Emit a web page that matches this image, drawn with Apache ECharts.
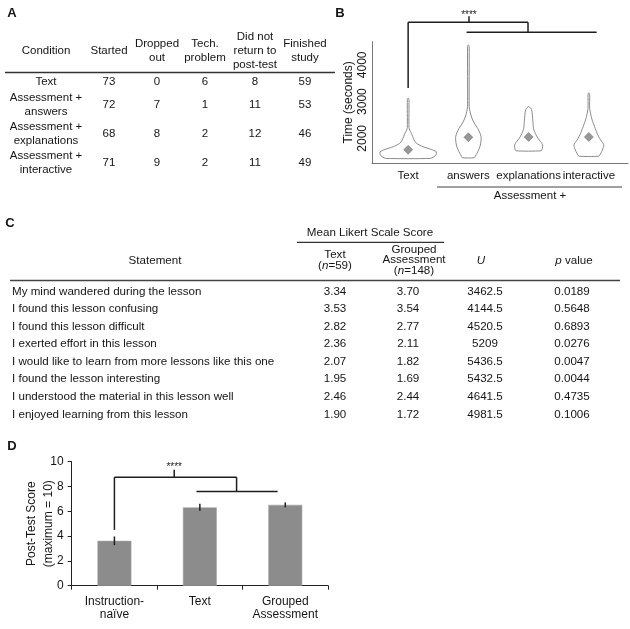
<!DOCTYPE html>
<html><head><meta charset="utf-8">
<script src="https://cdn.jsdelivr.net/npm/echarts@6/dist/echarts.min.js"></script>
<style>html,body{margin:0;padding:0;background:#fff}#c{width:630px;height:629px}</style>
</head><body><div id="c"></div>
<script>
// ---------------- DATA ----------------
// Panel A table
const tableAHeaders = ['Condition', 'Started', 'Dropped\nout', 'Tech.\nproblem', 'Did not\nreturn to\npost-test', 'Finished\nstudy'];
const conditions = ['Text', 'Assessment +\nanswers', 'Assessment +\nexplanations', 'Assessment +\ninteractive'];
const started = [73, 72, 68, 71];
const droppedOut = [0, 7, 8, 9];
const techProblem = [6, 1, 2, 2];
const didNotReturn = [8, 11, 12, 11];
const finishedStudy = [59, 53, 46, 49];

// Panel B violin plot (time in seconds); densities as [time, density] (arbitrary units)
const violinCategories = ['Text', 'answers', 'explanations', 'interactive'];
const violinMeans = [1690, 2030, 2040, 2040];
const densityText = [[1455,22],[1500,26],[1560,28],[1636,28],[1700,23],[1771,15],[1864,8.5],[1955,6],[2050,4.5],[2136,3.3],[2226,1.5],[2300,0.8],[3050,0.8],[3100,0]];
const densityAnswers = [[1473,6],[1520,7],[1591,8.5],[1700,10.5],[1818,12],[1950,12.7],[2045,12.7],[2150,11.5],[2272,9.3],[2390,6.5],[2499,4.3],[2610,2.8],[2725,1.7],[2861,0.8],[4500,0.8],[4542,0]];
const densityExplanations = [[1662,12.5],[1720,13.7],[1818,14],[1890,12.5],[1955,10.7],[2040,8.5],[2136,6.7],[2230,5.3],[2318,4.7],[2545,4],[2700,3.5],[2790,2.8],[2840,1.5],[2865,0]];
const densityInteractive = [[1518,10],[1600,12],[1681,13.5],[1818,15],[1890,13.5],[1955,11.7],[2040,10],[2136,8.3],[2230,7],[2318,5.7],[2410,4.5],[2499,3.3],[2590,2.4],[2680,1.7],[2817,0.8],[3200,0.8],[3243,0]];
const timeTicks = [2000, 3000, 4000];
const groupLabelB = 'Assessment +';
// significance bracket for B: segments [x1, y1, x2, y2] in data units
const bracketB = [[1,3370,1,5160],[1,5160,2.99,5160],[2.99,5160,2.99,4888],[1.97,4888,4.13,4888],[2.01,5160,2.01,5320]];
const starsB = [2.01, 5350];

// Panel C table
const statements = ['My mind wandered during the lesson','I found this lesson confusing','I found this lesson difficult','I exerted effort in this lesson','I would like to learn from more lessons like this one','I found the lesson interesting','I understood the material in this lesson well','I enjoyed learning from this lesson'];
const likertText = [3.34, 3.53, 2.82, 2.36, 2.07, 1.95, 2.46, 1.90];
const likertGrouped = [3.70, 3.54, 2.77, 2.11, 1.82, 1.69, 2.44, 1.72];
const uStat = [3462.5, 4144.5, 4520.5, 5209, 5436.5, 5432.5, 4641.5, 4981.5];
const pValues = [0.0189, 0.5648, 0.6893, 0.0276, 0.0047, 0.0044, 0.4735, 0.1006];

// Panel D bar chart
const scoreCategories = ['Instruction-\nnaïve', 'Text', 'Grouped\nAssessment'];
const scoreMeans = [3.62, 6.32, 6.52];
const scoreErrors = [0.35, 0.28, 0.2];
const scoreTicks = [0, 2, 4, 6, 8, 10];
const bracketD = [[0,4.5,0,8.75],[0,8.75,1.43,8.75],[1.43,8.75,1.43,7.6],[0.96,7.6,1.91,7.6],[0.7,8.75,0.7,9.35]];
const starsD = [0.7, 9.57];

// ---------------- RENDER ----------------
const FONT = '"Liberation Sans", Arial, Helvetica, sans-serif';
const INK = '#151515';
const FC = 11.6; // table C font size
function T(x, y, text, size, extra) {
  const st = Object.assign({
    text: text, font: size + 'px ' + FONT, fill: INK,
    align: 'center', verticalAlign: 'middle', textAlign: 'center', textVerticalAlign: 'middle',
    lineHeight: size + 3
  }, extra || {});
  return { type: 'text', x: x, y: y, silent: true, style: st };
}
function L(x1, y1, x2, y2, w, c) {
  return { type: 'line', silent: true, shape: { x1: x1, y1: y1, x2: x2, y2: y2 }, style: { stroke: c || '#222', lineWidth: w || 1 } };
}
const els = [];
// Panel letters
els.push(T(12, 13, 'A', 13, { font: 'bold 13px ' + FONT }));
els.push(T(340, 13, 'B', 13, { font: 'bold 13px ' + FONT }));
els.push(T(10, 223, 'C', 13, { font: 'bold 13px ' + FONT }));
els.push(T(12, 446, 'D', 13, { font: 'bold 13px ' + FONT }));

// Table A
const colA = [46, 109, 157, 205, 255, 305];
tableAHeaders.forEach((h, i) => els.push(T(colA[i], 50.5, h, 11.5, { lineHeight: 14 })));
els.push(L(5, 72.5, 335, 72.5, 1.6, '#333'));
const rowA = [82.3, 105, 134, 163];
const colsA = [started, droppedOut, techProblem, didNotReturn, finishedStudy];
conditions.forEach((c, r) => {
  els.push(T(colA[0], rowA[r], c, 11.5, { lineHeight: 14 }));
  colsA.forEach((arr, k) => els.push(T(colA[k + 1], rowA[r], String(arr[r]), 11.5)));
});

// Panel B extra labels
els.push(L(437, 187, 622, 187, 1.2, '#444'));
els.push(T(530, 195.5, groupLabelB, 11.5));

// Table C
const richI = { i: { font: 'italic ' + FC + 'px ' + FONT, fill: INK } };
els.push(T(370, 232.7, 'Mean Likert Scale Score', FC));
els.push(L(297, 242.3, 444, 242.3, 1.3, '#333'));
els.push(T(155, 260.7, 'Statement', FC));
els.push(T(335, 260.3, 'Text\n({i|n}=59)', FC, { lineHeight: 10.7, rich: richI }));
els.push(T(414, 260.2, 'Grouped\nAssessment\n({i|n}=148)', FC, { lineHeight: 10.8, rich: richI }));
els.push(T(481, 260.7, '{i|U}', FC, { rich: richI }));
els.push(T(574, 260.7, '{i|p} value', FC, { rich: richI }));
els.push(L(10, 280.5, 620, 280.5, 1.6, '#444'));
statements.forEach((s, r) => {
  const y = 291.5 + r * 17.55;
  els.push(T(12, y, s, FC, { align: 'left', textAlign: 'left' }));
  els.push(T(335, y, likertText[r].toFixed(2), FC));
  els.push(T(408, y, likertGrouped[r].toFixed(2), FC));
  els.push(T(485, y, String(uStat[r]), FC));
  els.push(T(572, y, pValues[r].toFixed(4), FC));
});

const densities = [densityText, densityAnswers, densityExplanations, densityInteractive];
const W = 1; // px per density unit

function segRenderer(segs, xInterp) {
  return function (params, api) {
    const s = segs[params.dataIndex];
    const a = xInterp ? xInterp(api, s[0], s[1]) : api.coord([s[0], s[1]]);
    const b = xInterp ? xInterp(api, s[2], s[3]) : api.coord([s[2], s[3]]);
    return { type: 'line', shape: { x1: a[0], y1: a[1], x2: b[0], y2: b[1] }, style: { stroke: '#1e1e1e', lineWidth: 1.5 } };
  };
}
function catInterp(api, fx, vy) {
  const c0 = api.coord([0, vy]);
  const c1 = api.coord([1, vy]);
  return [c0[0] + fx * (c1[0] - c0[0]), c0[1]];
}

const option = {
  backgroundColor: '#fff',
  animation: false,
  textStyle: { fontFamily: FONT, color: INK },
  grid: [
    { left: 372, top: 41.7, width: 256, height: 121.3, containLabel: false, outerBoundsMode: 'none' },
    { left: 71.7, top: 461.7, width: 256.3, height: 124, containLabel: false, outerBoundsMode: 'none' }
  ],
  xAxis: [
    { type: 'value', gridIndex: 0, min: 0.4, max: 4.65,
      axisLine: { show: true, lineStyle: { color: '#777', width: 1 } }, axisTick: { show: false }, splitLine: { show: false },
      axisLabel: { customValues: [1, 2, 3, 4], formatter: v => violinCategories[Math.round(v) - 1] || '', fontSize: 11.5, color: INK, margin: 7, fontFamily: FONT } },
    { type: 'category', gridIndex: 1, data: scoreCategories,
      axisLine: { show: true, lineStyle: { color: '#222', width: 1 } }, axisTick: { show: true, length: 4, lineStyle: { color: '#222' } },
      axisLabel: { fontSize: 12, lineHeight: 13, color: INK, margin: 9, interval: 0, fontFamily: FONT } }
  ],
  yAxis: [
    { type: 'value', gridIndex: 0, min: 1330, max: 4630,
      axisLine: { show: true, lineStyle: { color: '#777', width: 1 } }, axisTick: { show: false }, splitLine: { show: false },
      axisLabel: { customValues: timeTicks, formatter: v => String(v), rotate: 90, fontSize: 12, color: INK, margin: 3, fontFamily: FONT },
      name: 'Time (seconds)', nameLocation: 'middle', nameGap: 17, nameMoveOverlap: false, nameTextStyle: { fontSize: 12, color: INK, fontFamily: FONT } },
    { type: 'value', gridIndex: 1, min: scoreTicks[0], max: scoreTicks[scoreTicks.length - 1], interval: scoreTicks[1] - scoreTicks[0],
      axisLine: { show: true, lineStyle: { color: '#222', width: 1 } }, axisTick: { show: true, length: 4, lineStyle: { color: '#222' } }, splitLine: { show: false },
      axisLabel: { fontSize: 12, color: INK, margin: 8, fontFamily: FONT },
      name: 'Post-Test Score\n(maximum = 10)', nameLocation: 'middle', nameGap: 15, nameMoveOverlap: false, nameTextStyle: { fontSize: 12, lineHeight: 16.5, color: INK, fontFamily: FONT } }
  ],
  series: [
    { type: 'custom', xAxisIndex: 0, yAxisIndex: 0, silent: true, z: 2,
      data: violinCategories.map((c, i) => [i + 1, violinMeans[i]]),
      renderItem: function (params, api) {
        const i = params.dataIndex;
        const prof = densities[i];
        const cx = api.coord([i + 1, prof[0][0]])[0];
        const right = prof.map(p => [cx + p[1] * W, api.coord([i + 1, p[0]])[1]]);
        const leftProf = prof.slice().reverse().filter(p => p[1] > 0);
        const left = leftProf.map(p => [cx - p[1] * W, api.coord([i + 1, p[0]])[1]]);
        return { type: 'polygon', shape: { points: right.concat(left), smooth: 0.25 }, style: { fill: '#fff', stroke: '#8a8a8a', lineWidth: 1 } };
      } },
    { type: 'scatter', xAxisIndex: 0, yAxisIndex: 0, silent: true, z: 3,
      data: violinMeans.map((m, i) => [i + 1, m]), symbol: 'diamond', symbolSize: 9,
      itemStyle: { color: '#7d7d7d', borderColor: '#666', borderWidth: 0.6 } },
    { type: 'custom', xAxisIndex: 0, yAxisIndex: 0, silent: true, clip: false, z: 4,
      data: bracketB.map(s => [s[0], s[1]]), renderItem: segRenderer(bracketB) },
    { type: 'custom', xAxisIndex: 0, yAxisIndex: 0, silent: true, clip: false, z: 4,
      data: [starsB],
      renderItem: function (params, api) {
        const p = api.coord(starsB);
        return { type: 'text', x: p[0], y: p[1], style: { text: '****', font: '10px ' + FONT, fill: '#1e1e1e', align: 'center', verticalAlign: 'middle', textAlign: 'center', textVerticalAlign: 'middle' } };
      } },
    { type: 'bar', xAxisIndex: 1, yAxisIndex: 1, silent: true, z: 2,
      data: scoreMeans, barWidth: 34,
      itemStyle: { color: '#8c8c8c', borderColor: '#a8a8a8', borderWidth: 0.6 } },
    { type: 'custom', xAxisIndex: 1, yAxisIndex: 1, silent: true, z: 5,
      data: scoreMeans.map((m, i) => [i, m - scoreErrors[i], m + scoreErrors[i]]),
      renderItem: function (params, api) {
        const i = params.dataIndex;
        const a = api.coord([i, scoreMeans[i] - scoreErrors[i]]);
        const b = api.coord([i, scoreMeans[i] + scoreErrors[i]]);
        return { type: 'line', shape: { x1: a[0], y1: a[1], x2: b[0], y2: b[1] }, style: { stroke: '#1e1e1e', lineWidth: 1.5 } };
      } },
    { type: 'custom', xAxisIndex: 1, yAxisIndex: 1, silent: true, clip: false, z: 5,
      data: bracketD.map(s => [Math.round(s[0]), s[1]]), renderItem: segRenderer(bracketD, catInterp) },
    { type: 'custom', xAxisIndex: 1, yAxisIndex: 1, silent: true, clip: false, z: 5,
      data: [[1, starsD[1]]],
      renderItem: function (params, api) {
        const p = catInterp(api, starsD[0], starsD[1]);
        return { type: 'text', x: p[0], y: p[1], style: { text: '****', font: '10px ' + FONT, fill: '#1e1e1e', align: 'center', verticalAlign: 'middle', textAlign: 'center', textVerticalAlign: 'middle' } };
      } }
  ],
  graphic: { elements: els }
};
const chart = echarts.init(document.getElementById('c'), null, { renderer: 'canvas' });
chart.setOption(option);
</script>
</body></html>
